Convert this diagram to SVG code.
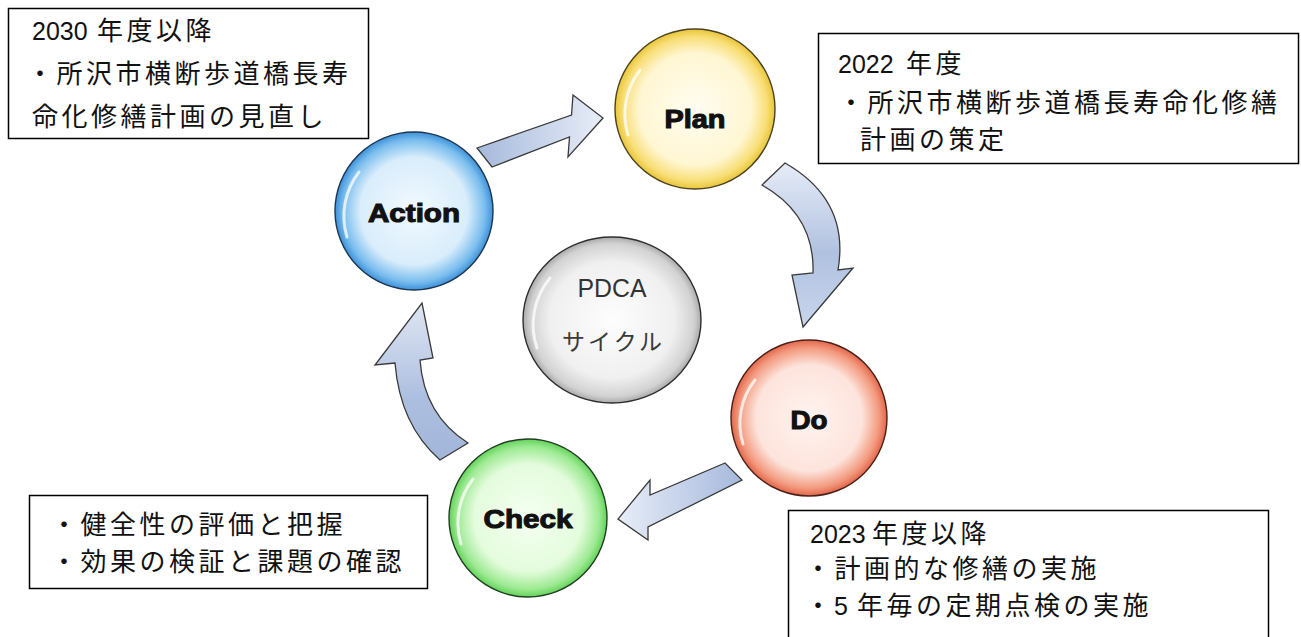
<svg xmlns="http://www.w3.org/2000/svg" width="1301" height="637" viewBox="0 0 1301 637">
<style>
.box{fill:#fff;stroke:#000;stroke-width:1.5}
.t{font-family:"Liberation Sans","Noto Sans CJK JP",sans-serif;font-size:25px;fill:#111}
.jp{font-family:"Noto Sans CJK JP",sans-serif;font-size:26px;letter-spacing:3.5px}
.lbl{font-family:"Liberation Sans",Arial,sans-serif;font-weight:bold;font-size:26px;fill:#111;stroke:#111;stroke-width:1.1;text-anchor:middle}
.arrow{stroke:#3a3a3a;stroke-width:1.3;stroke-linejoin:miter}
.ring{stroke-width:1.4}
.gloss{fill:none;stroke:#fff;stroke-width:3;stroke-linecap:round;opacity:.75}
</style>
<defs>
<radialGradient id="gPlan" cx=".5" cy=".5" r=".5"><stop offset="0" stop-color="#fffdf2"/><stop offset=".7" stop-color="#fff6d2"/><stop offset=".9" stop-color="#f8df78"/><stop offset="1" stop-color="#e9c53a"/></radialGradient>
<radialGradient id="gAct" cx=".5" cy=".5" r=".5"><stop offset="0" stop-color="#f2f9fe"/><stop offset=".68" stop-color="#d9edfb"/><stop offset=".9" stop-color="#79bdee"/><stop offset="1" stop-color="#3d90d8"/></radialGradient>
<radialGradient id="gDo" cx=".5" cy=".5" r=".5"><stop offset="0" stop-color="#fff3ef"/><stop offset=".68" stop-color="#fde4dc"/><stop offset=".9" stop-color="#f39a7f"/><stop offset="1" stop-color="#e2664a"/></radialGradient>
<radialGradient id="gChk" cx=".5" cy=".5" r=".5"><stop offset="0" stop-color="#f5fff2"/><stop offset=".68" stop-color="#e4fcdd"/><stop offset=".9" stop-color="#9eea93"/><stop offset="1" stop-color="#62d25a"/></radialGradient>
<radialGradient id="gPd" cx=".5" cy=".5" r=".5"><stop offset="0" stop-color="#fdfdfd"/><stop offset=".7" stop-color="#f0f0f0"/><stop offset=".92" stop-color="#d2d2d2"/><stop offset="1" stop-color="#aaaaaa"/></radialGradient>
<linearGradient id="aH" x1="0" y1="0" x2="1" y2="0"><stop offset="0" stop-color="#a6b9dc"/><stop offset="1" stop-color="#e8edf7"/></linearGradient>
<linearGradient id="aHr" x1="0" y1="0" x2="1" y2="0"><stop offset="0" stop-color="#e8edf7"/><stop offset="1" stop-color="#a6b9dc"/></linearGradient>
<linearGradient id="aV" x1="0" y1="0" x2="0" y2="1"><stop offset="0" stop-color="#e6ecf7"/><stop offset=".55" stop-color="#b0c1e0"/><stop offset="1" stop-color="#c9d5ec"/></linearGradient>
<linearGradient id="aV2" x1="0" y1="0" x2="0" y2="1"><stop offset="0" stop-color="#dfe6f3"/><stop offset=".6" stop-color="#adbfe0"/><stop offset="1" stop-color="#a2b6da"/></linearGradient>
</defs>
<rect width="1301" height="637" fill="#fff"/>

<g id="connectors">
<path id="a-action-plan" class="arrow" fill="url(#aH)" d="M477,148 L571.5,115 L573,95 L603,118 L568,157 L569.5,137 L492,167 Z"/>
<path id="a-plan-do" class="arrow" fill="url(#aV)" d="M785,163 Q850,200 838,270 L853,268 L803,327 L792,275 L813,273 Q815,215 762,185 Z"/>
<path id="a-do-check" class="arrow" fill="url(#aHr)" d="M725,463 L650,495 L650,480 L618,519 L648,540 L648,527 L742,480 Z"/>
<path id="a-check-action" class="arrow" fill="url(#aV2)" d="M422,303 L433,358 L420,360 Q424,415 468,443 L440,460 Q400,425 395,363 L375,365 Z"/>
</g>

<g id="node-plan">
<circle class="ring" cx="695" cy="109" r="80" fill="url(#gPlan)" stroke="#4a4220"/>
<path class="gloss" d="M628,135 A72,72 0 0 1 640,70"/>
<text class="lbl" x="695" y="128" textLength="61" lengthAdjust="spacingAndGlyphs">Plan</text>
</g>
<g id="node-action">
<circle class="ring" cx="414" cy="211" r="79" fill="url(#gAct)" stroke="#1f3550"/>
<path class="gloss" d="M347,237 A72,72 0 0 1 359,172"/>
<text class="lbl" x="414" y="222" textLength="92" lengthAdjust="spacingAndGlyphs">Action</text>
</g>
<g id="node-pdca">
<ellipse class="ring" cx="612" cy="320" rx="89" ry="83" fill="url(#gPd)" stroke="#2e2e2e"/>
<path class="gloss" d="M537,348 A80,76 0 0 1 550,278"/>
<text x="612" y="297" text-anchor="middle" font-family="Liberation Sans, Arial, sans-serif" font-size="26" fill="#333" textLength="69" lengthAdjust="spacingAndGlyphs">PDCA</text>
<text x="612" y="350" text-anchor="middle" font-family="Noto Sans CJK JP, sans-serif" font-size="23" fill="#3a3a3a" textLength="100" lengthAdjust="spacing">サイクル</text>
</g>
<g id="node-do">
<circle class="ring" cx="809" cy="418" r="78" fill="url(#gDo)" stroke="#4a2118"/>
<path class="gloss" d="M743,444 A70,70 0 0 1 755,380"/>
<text class="lbl" x="809" y="429" textLength="37" lengthAdjust="spacingAndGlyphs">Do</text>
</g>
<g id="node-check">
<circle class="ring" cx="528" cy="518" r="79" fill="url(#gChk)" stroke="#223d22"/>
<path class="gloss" d="M461,544 A72,72 0 0 1 473,479"/>
<text class="lbl" x="528" y="528" textLength="89" lengthAdjust="spacingAndGlyphs">Check</text>
</g>

<g id="note-action">
<rect class="box" x="8.5" y="8.5" width="360" height="130"/>
<text class="t" x="32" y="40">2030<tspan class="jp" x="97" letter-spacing="2">年度以降</tspan></text>
<text class="t jp" x="27" y="83">・所沢市横断歩道橋長寿</text>
<text class="t jp" x="32" y="126">命化修繕計画の見直し</text>
</g>
<g id="note-plan">
<rect class="box" x="818.5" y="33.5" width="480" height="130"/>
<text class="t" x="838" y="73">2022<tspan class="jp" x="906" letter-spacing="2">年度</tspan></text>
<text class="t jp" x="838" y="112">・所沢市横断歩道橋長寿命化修繕</text>
<text class="t jp" x="860" y="149">計画の策定</text>
</g>
<g id="note-check">
<rect class="box" x="29.5" y="495.5" width="398" height="93"/>
<text class="t jp" x="51" y="534">・健全性の評価と把握</text>
<text class="t jp" x="51" y="571">・効果の検証と課題の確認</text>
</g>
<g id="note-do">
<rect class="box" x="788.5" y="510.5" width="480" height="140"/>
<text class="t" x="810" y="543">2023<tspan class="jp" x="872" letter-spacing="2">年度以降</tspan></text>
<text class="t jp" x="805" y="578">・計画的な修繕の実施</text>
<text class="t" x="805" y="615"><tspan class="jp">・</tspan><tspan x="834">5</tspan><tspan class="jp" x="857">年毎の定期点検の実施</tspan></text>
</g>
</svg>
